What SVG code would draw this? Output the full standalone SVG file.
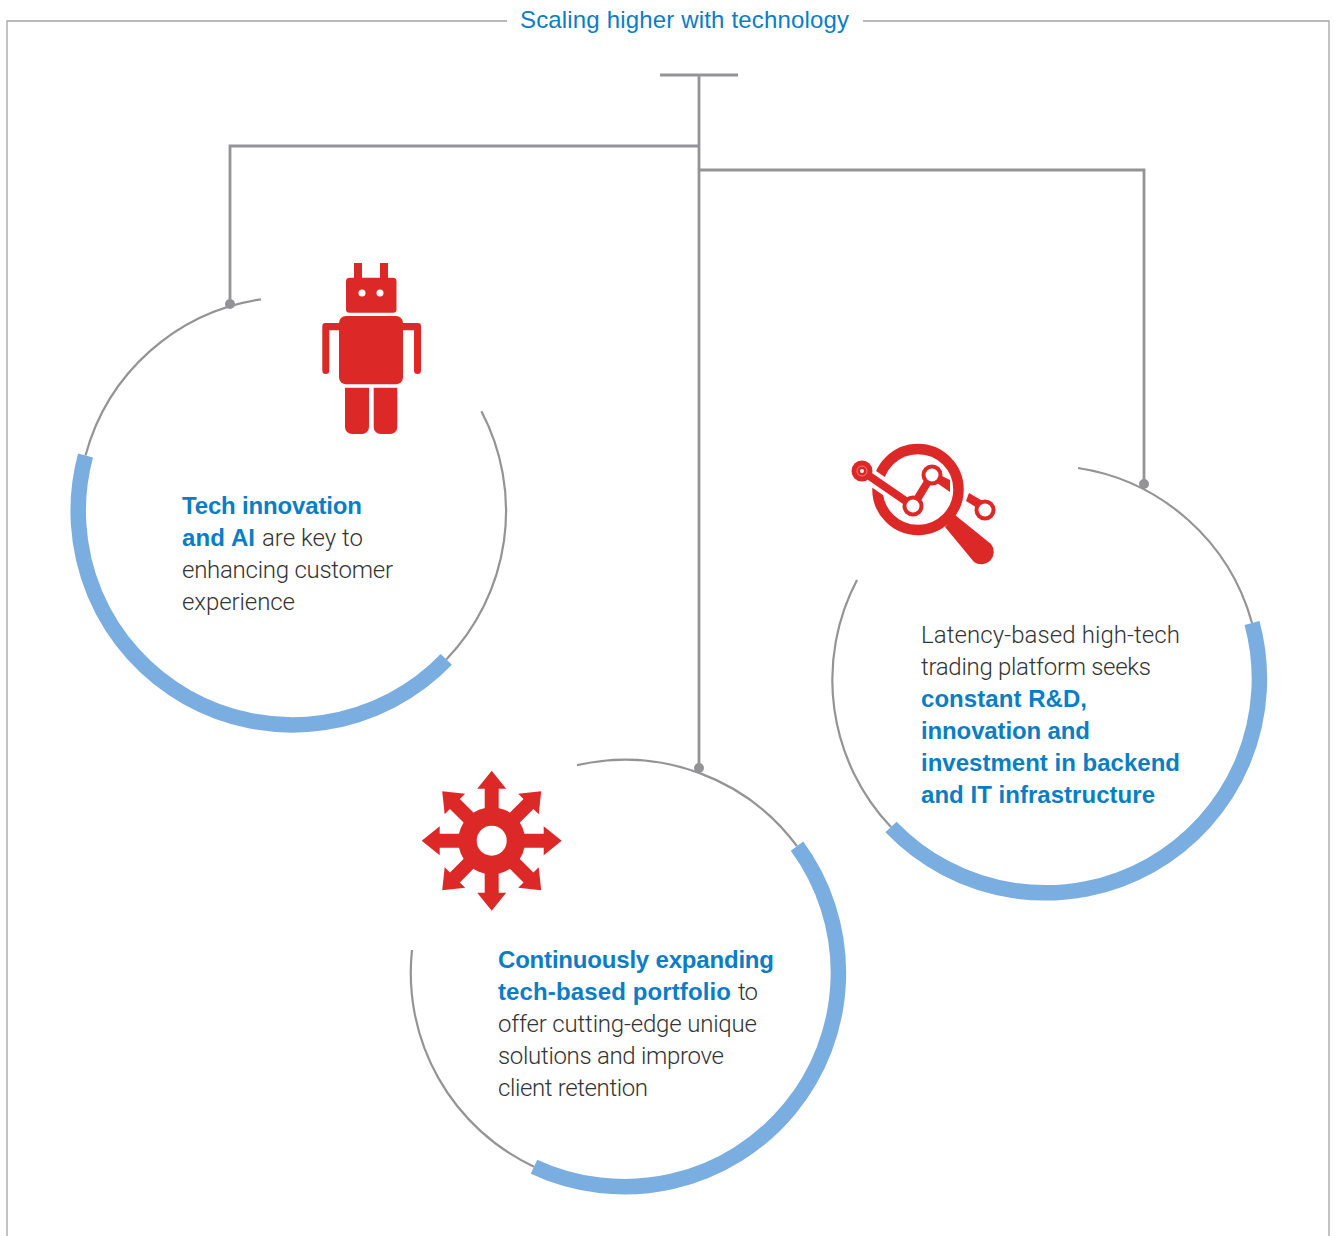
<svg xmlns="http://www.w3.org/2000/svg" width="1335" height="1236" viewBox="0 0 1335 1236">
<style>
.frame{fill:none;stroke:#a3a3a5;stroke-width:1.3}
.conn{fill:none;stroke:#949497;stroke-width:2.8}
.dot{fill:#949497}
.ring{fill:none;stroke:#949497;stroke-width:2.2}
.band{fill:none;stroke:#7aade0;stroke-width:15.5}
.red{fill:#dd2828}
.hole{fill:#fff}
text{font-size:24px;font-family:"Liberation Sans",Arial,sans-serif}
.t{font-family:Roboto,"Liberation Sans",sans-serif;font-weight:300;fill:#333}
.b{font-weight:700;fill:#0b7dc5}
.title{font-family:"Liberation Sans",Arial,sans-serif;fill:#0b7dc5}
</style>
<defs>
<polygon id="arrow" points="-7,-30 -7,-52 -14.5,-52 0,-70 14.5,-52 7,-52 7,-30"/>
</defs>
<g id="frame">
<path class="frame" d="M7 1236V21H507M863 21H1329V1236"/>
<text class="title" x="520" y="28" textLength="329" lengthAdjust="spacing">Scaling higher with technology</text>
</g>
<g id="connectors">
<path class="conn" d="M660 75H738M699 75V768M699 146H230V304M699 170H1144V484"/>
<circle class="dot" cx="230" cy="304" r="5"/>
<circle class="dot" cx="699" cy="768" r="5"/>
<circle class="dot" cx="1144" cy="484" r="5"/>
</g>
<g id="node-tech-innovation">
<path class="ring" d="M261 299.3A214 214 0 0 0 85.5 455.5M446.3 659.4A214 214 0 0 0 481.4 411.3"/>
<path class="band" d="M85.5 455.5A214 214 0 0 0 446.3 659.4"/>
<g class="red">
<rect x="354" y="263" width="8" height="18"/>
<rect x="380" y="263" width="8" height="18"/>
<rect x="346" y="277.7" width="50.5" height="35" rx="3.5"/>
<rect x="339" y="316" width="64" height="68.3" rx="7"/>
<path d="M339 323H325.3a3 3 0 0 0-3 3V370.5a3.5 3.5 0 0 0 7 0V330.3H339ZM403 323H418a3 3 0 0 1 3 3V370.5a3.5 3.5 0 0 1-7 0V330.3H403Z"/>
<path d="M345 387.7H369V427a7 7 0 0 1-7 7H352a7 7 0 0 1-7-7ZM373.7 387.7H397.3V427a7 7 0 0 1-7 7H380.7a7 7 0 0 1-7-7Z"/>
</g>
<circle class="hole" cx="362" cy="293" r="3.5"/>
<circle class="hole" cx="380" cy="293" r="3.5"/>
<text x="182" y="514" class="b" textLength="180" lengthAdjust="spacing">Tech innovation</text>
<text x="182" y="546" class="b" textLength="73" lengthAdjust="spacing">and AI</text>
<text x="262" y="546" class="t" textLength="101" lengthAdjust="spacing">are key to</text>
<text x="182" y="578" class="t" textLength="211" lengthAdjust="spacing">enhancing customer</text>
<text x="182" y="610" class="t" textLength="113" lengthAdjust="spacing">experience</text>
</g>
<g id="node-latency">
<path class="ring" d="M1078 468A214 214 0 0 1 1252 623M891 827A214 214 0 0 1 857 580"/>
<path class="band" d="M1252 623A214 214 0 0 1 891 827"/>
<circle cx="918" cy="489.5" r="40.5" fill="none" stroke="#dd2828" stroke-width="10.5"/>
<path d="M862 471L913 506" stroke="#fff" stroke-width="16" fill="none"/>
<path class="red" d="M942 476L950 480L950 492L937 483Z"/>
<path d="M862 471L913 506L932 475" stroke="#dd2828" stroke-width="8" fill="none"/>
<path class="red" d="M969 493L986 503L982 511L966 501Z"/>
<path class="red" d="M955 515L991 544A12.5 12.5 0 0 1 974 562L945 527Z"/>
<circle class="red" cx="862" cy="471" r="10.5"/>
<circle cx="862" cy="471" r="5" fill="none" stroke="#f3b5b5" stroke-width="0.6"/>
<circle class="hole" cx="862" cy="471" r="2"/>
<circle class="red" cx="913" cy="506" r="10.5"/>
<circle class="hole" cx="913" cy="506" r="6.5"/>
<circle class="red" cx="932" cy="475" r="10.5"/>
<circle class="hole" cx="932" cy="475" r="6.5"/>
<circle class="red" cx="985" cy="510" r="10.5"/>
<circle class="hole" cx="985" cy="510" r="6.5"/>
<text x="921" y="643" class="t" textLength="259" lengthAdjust="spacing">Latency-based high-tech</text>
<text x="921" y="675" class="t" textLength="230" lengthAdjust="spacing">trading platform seeks</text>
<text x="921" y="707" class="b" textLength="166" lengthAdjust="spacing">constant R&amp;D,</text>
<text x="921" y="739" class="b" textLength="169" lengthAdjust="spacing">innovation and</text>
<text x="921" y="771" class="b" textLength="259" lengthAdjust="spacing">investment in backend</text>
<text x="921" y="803" class="b" textLength="234" lengthAdjust="spacing">and IT infrastructure</text>
</g>
<g id="node-portfolio">
<path class="ring" d="M577 765.2A214 214 0 0 1 797 846.2M534 1166.7A214 214 0 0 1 412 950"/>
<path class="band" d="M797 846.2A214 214 0 0 1 534 1166.7"/>
<g class="red" transform="translate(491.7 840.7)">
<circle r="33.5"/>
<use href="#arrow"/>
<use href="#arrow" transform="rotate(45)"/>
<use href="#arrow" transform="rotate(90)"/>
<use href="#arrow" transform="rotate(135)"/>
<use href="#arrow" transform="rotate(180)"/>
<use href="#arrow" transform="rotate(225)"/>
<use href="#arrow" transform="rotate(270)"/>
<use href="#arrow" transform="rotate(315)"/>
</g>
<circle class="hole" cx="491.7" cy="840.7" r="15"/>
<text x="498" y="968" class="b" textLength="276" lengthAdjust="spacing">Continuously expanding</text>
<text x="498" y="1000" class="b" textLength="233" lengthAdjust="spacing">tech-based portfolio</text>
<text x="738" y="1000" class="t" textLength="20" lengthAdjust="spacing">to</text>
<text x="498" y="1032" class="t" textLength="259" lengthAdjust="spacing">offer cutting-edge unique</text>
<text x="498" y="1064" class="t" textLength="226" lengthAdjust="spacing">solutions and improve</text>
<text x="498" y="1096" class="t" textLength="150" lengthAdjust="spacing">client retention</text>
</g>
</svg>
